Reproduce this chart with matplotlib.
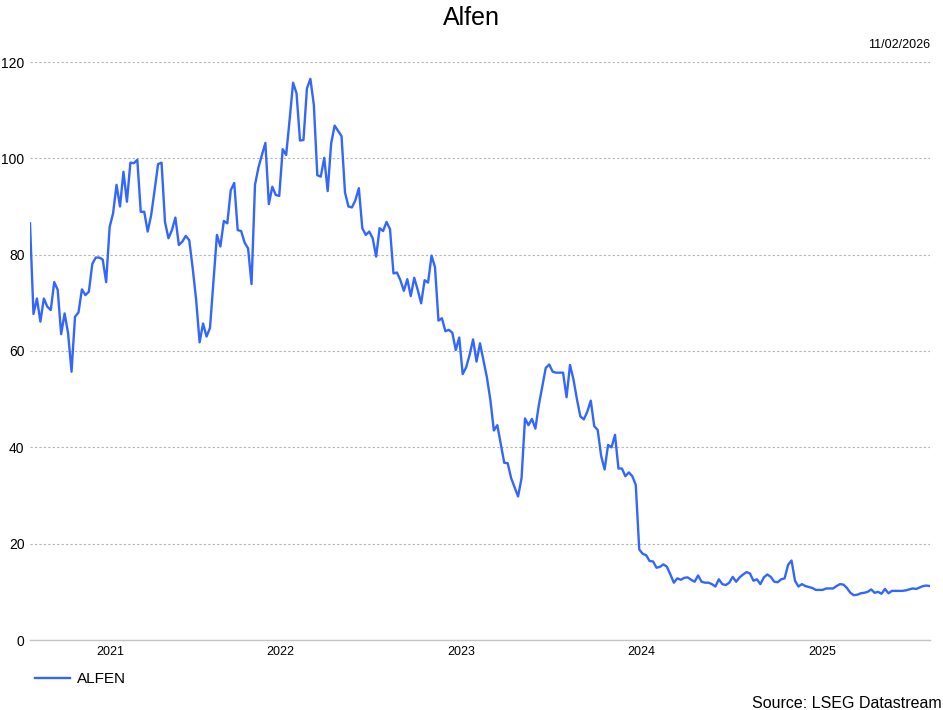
import matplotlib
matplotlib.use("Agg")
import matplotlib.pyplot as plt
import matplotlib.dates as mdates
import pandas as pd

title = "Alfen"
series_name = "ALFEN"
as_of = "11/02/2026"
source = "Source: LSEG Datastream"
first_week = "2021-02-11"
year_labels = [2021, 2022, 2023, 2024, 2025]
y_ticks = [0, 20, 40, 60, 80, 100, 120]

# weekly closing prices (EUR)
prices = [
    86.5, 67.7, 70.9, 66.1, 70.9, 69.2, 68.5, 74.3, 72.7, 63.5,
    67.8, 63.7, 55.7, 67.1, 68.0, 72.8, 71.6, 72.3, 78.1, 79.4,
    79.4, 79.0, 74.3, 85.7, 88.6, 94.5, 90.0, 97.2, 91.0, 99.1,
    99.0, 99.7, 88.9, 88.9, 84.8, 88.2, 93.4, 98.8, 99.1, 86.8,
    83.4, 85.1, 87.7, 82.0, 82.7, 83.9, 83.0, 77.2, 70.6, 61.8,
    65.7, 63.0, 64.8, 74.5,
    84.1, 81.7, 87.0, 86.5, 93.4, 94.9, 85.1, 84.9, 82.5, 81.3,
    73.9, 94.5, 98.1, 100.7, 103.2, 90.5, 94.1, 92.4, 92.2, 101.9,
    100.7, 108.0, 115.7, 113.5, 103.7, 103.8, 114.5, 116.5, 111.1, 96.5,
    96.2, 100.1, 93.2, 103.1, 106.8, 105.7, 104.6, 92.9, 90.0, 89.8,
    91.3, 93.8, 85.5, 84.1, 84.8, 83.4, 79.6,
    85.5, 84.9, 86.8, 85.3, 76.1, 76.3, 74.7, 72.5, 74.9, 71.4,
    75.2, 72.7, 69.9, 74.7, 74.2, 79.8, 77.4, 66.3, 66.8, 64.1,
    64.4, 63.8, 60.2, 62.8, 55.2, 56.6, 59.2, 62.4, 57.8, 61.6,
    58.1, 54.5, 49.8, 43.5, 44.6, 40.7, 36.8, 36.7, 33.6, 31.7,
    29.8, 33.6, 46.0, 44.6, 45.9, 43.9, 48.8, 52.6, 56.5, 57.2,
    55.7,
    55.5, 55.5, 55.5, 50.4, 57.1, 54.1, 50.0, 46.4, 45.8, 47.4,
    49.7, 44.4, 43.6, 38.2, 35.4, 40.5, 40.0, 42.6, 35.6, 35.6,
    34.0, 34.8, 34.0, 32.2, 18.8, 17.9, 17.6, 16.4, 16.3, 15.0,
    15.2, 15.7, 15.2, 13.6, 11.9, 12.8, 12.5, 12.9, 13.0, 12.5,
    12.1, 13.4, 12.1, 11.9, 11.9, 11.6, 11.1, 12.6, 11.6, 11.4,
    11.9,
    13.1, 12.1, 13.0, 13.6, 14.1, 13.8, 12.3, 12.6, 11.6, 13.0,
    13.6, 13.1, 12.1, 12.0, 12.6, 12.8, 15.6, 16.5, 12.3, 11.1,
    11.6, 11.2, 11.0, 10.8, 10.4, 10.4, 10.4, 10.7, 10.7, 10.7,
    11.2, 11.6, 11.5, 10.8, 9.8, 9.3, 9.4, 9.7, 9.8, 10.0,
    10.5, 9.8, 10.0, 9.6, 10.6, 9.7, 10.2, 10.2, 10.2, 10.2,
    10.3, 10.5, 10.7, 10.6, 10.9, 11.2, 11.3, 11.2,
]

plt.rcParams['font.family'] = ['Liberation Sans', 'DejaVu Sans']

dates = pd.date_range(first_week, periods=len(prices), freq="7D")
W, H = 943, 710
fig = plt.figure(figsize=(W / 100, H / 100), dpi=100)
ax = fig.add_axes([30 / W, 1 - 640 / H, 900 / W, 578 / H])

ax.plot(dates, prices, color='#3366ff', lw=1.7, label=series_name, zorder=3)
ax.set_xlim(dates[0], dates[-1])
ax.set_ylim(0, 120)
ax.set_yticks(y_ticks)
ax.grid(axis='y', color='#b4b4b4', ls=(0, (2, 2)), lw=0.8)
ax.set_axisbelow(True)
for s in ['top', 'right', 'left']:
    ax.spines[s].set_visible(False)
ax.spines['bottom'].set_color('#c4c4c4')
ax.spines['bottom'].set_linewidth(1)

# year labels sit in the middle of the visible part of each year
start, end = dates[0], dates[-1]
xt = []
for yr in year_labels:
    lo = max(start, pd.Timestamp(f"{yr}-01-01"))
    hi = min(end, pd.Timestamp(f"{yr + 1}-01-01"))
    xt.append(mdates.date2num(lo + (hi - lo) / 2))
ax.set_xticks(xt)
ax.set_xticklabels([str(y) for y in year_labels])
ax.tick_params(axis='x', length=0, labelsize=9, pad=4)
ax.tick_params(axis='y', length=0, labelsize=10, pad=4)

fig.text(0.5, 1 - 18 / H, title, ha='center', va='center', fontsize=18)
fig.text(930 / W, 1 - 45 / H, as_of, ha='right', va='center', fontsize=9)
fig.text(1 - 1 / W, 1 - 703 / H, source, ha='right', va='center', fontsize=11.5)

ax.legend(loc='center left', bbox_to_anchor=(35 / W, 1 - 679 / H),
          bbox_transform=fig.transFigure, frameon=False, fontsize=11,
          borderpad=0, borderaxespad=0, handlelength=2.3, handletextpad=0.45)

fig.savefig("out.png", dpi=100)
